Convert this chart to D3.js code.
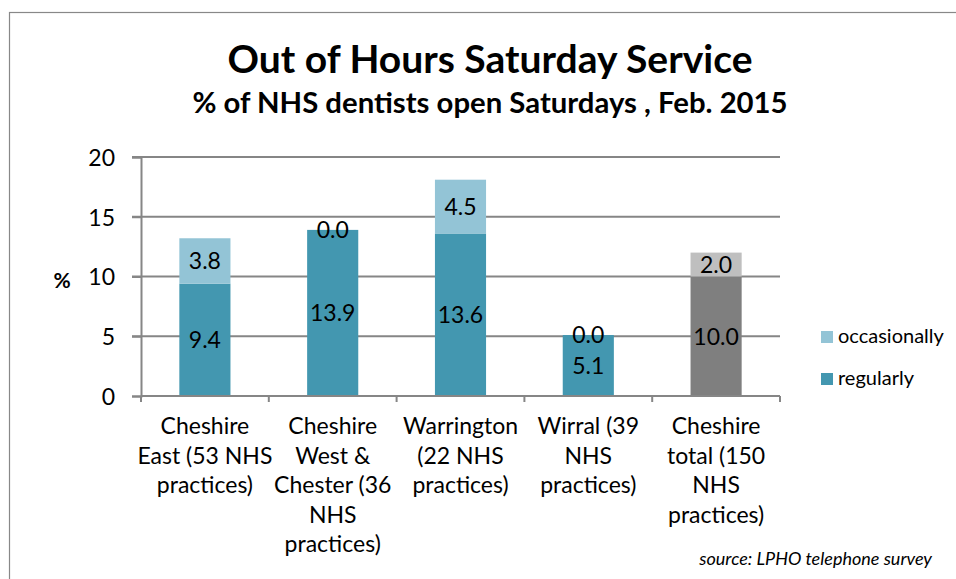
<!DOCTYPE html>
<html>
<head>
<meta charset="utf-8">
<script src="https://cdn.jsdelivr.net/npm/d3@7"></script>
<style>
    body { margin: 0; background: #fff; }
    text { font-family: Lato, "Open Sans", sans-serif; fill: #000; }
</style>
</head>
<body>
<div id="chart"></div>
<script>
// Données
const categories = [
    ["Cheshire", "East (53 NHS", "practices)"],
    ["Cheshire", "West &", "Chester (36", "NHS", "practices)"],
    ["Warrington", "(22 NHS", "practices)"],
    ["Wirral (39", "NHS", "practices)"],
    ["Cheshire", "total (150", "NHS", "practices)"]
]
const regularly = [9.4, 13.9, 13.6, 5.1, 10.0]
const occasionally = [3.8, 0.0, 4.5, 0.0, 2.0]
const yTicks = [0, 5, 10, 15, 20]
const seriesNames = ["occasionally", "regularly"]

const width = 956, height = 579
const margin = {top: 157, right: 176, bottom: 183, left: 141}

const svg = d3.select('#chart')
    .append('svg')
    .attr("width", width)
    .attr("height", height)

// cadre
svg.append("rect")
    .attr("x", 9.5).attr("y", 12.5)
    .attr("width", 1000).attr("height", 1000)
    .attr("fill", "none")
    .attr("stroke", "#888")
    .attr("stroke-width", 1.2)

svg.append("text")
    .attr("x", 490).attr("y", 73)
    .attr("text-anchor", "middle")
    .attr("font-size", 39).attr("font-weight", "bold")
    .text("Out of Hours Saturday Service")

svg.append("text")
    .attr("x", 490).attr("y", 113)
    .attr("text-anchor", "middle")
    .attr("font-size", 29.3).attr("font-weight", "bold")
    .text("% of NHS dentists open Saturdays , Feb. 2015")

const x = d3.scaleBand()
    .domain(d3.range(categories.length))
    .range([margin.left, width - margin.right])
    .paddingInner(0.6)
    .paddingOuter(0.3)

const y = d3.scaleLinear()
    .domain([0, 20])
    .range([height - margin.bottom, margin.top])

const g = svg.append("g")

// grille
g.selectAll(".grid")
    .data(yTicks.filter(d => d > 0))
    .join("line")
    .attr("x1", margin.left - 9).attr("x2", width - margin.right)
    .attr("y1", d => y(d)).attr("y2", d => y(d))
    .attr("stroke", "#868686").attr("stroke-width", 2)

// axe y
const yAxis = g.append("g")
    .attr("transform", `translate(${margin.left},0)`)
    .call(d3.axisLeft(y).tickValues(yTicks).tickSize(9).tickPadding(17))
yAxis.select(".domain").attr("stroke", "#868686").attr("stroke-width", 2)
yAxis.selectAll(".tick line").attr("stroke", "#868686").attr("stroke-width", 2)
yAxis.selectAll(".tick text").attr("font-size", 23).attr("font-family", "Lato").attr("dy", "0.36em")

svg.append("text")
    .attr("x", 62).attr("y", y(10) + 11)
    .attr("text-anchor", "middle")
    .attr("font-size", 21).attr("font-weight", "bold")
    .text("%")

// barres
const step = x.step()
const colors = i => i === 4 ? ["#7F7F7F", "#BFBFBF"] : ["#4397B0", "#93C4D6"]

const bars = g.selectAll(".bar")
    .data(categories.map((c, i) => ({i, reg: regularly[i], occ: occasionally[i]})))
    .join("g")

bars.append("rect")
    .attr("x", d => x(d.i)).attr("width", x.bandwidth())
    .attr("y", d => y(d.reg)).attr("height", d => y(0) - y(d.reg))
    .attr("fill", d => colors(d.i)[0])

bars.append("rect")
    .attr("x", d => x(d.i)).attr("width", x.bandwidth())
    .attr("y", d => y(d.reg + d.occ)).attr("height", d => y(d.reg) - y(d.reg + d.occ))
    .attr("fill", d => colors(d.i)[1])

bars.append("text")
    .attr("x", d => x(d.i) + x.bandwidth() / 2)
    .attr("y", d => y(d.reg / 2))
    .attr("dy", "0.36em")
    .attr("text-anchor", "middle").attr("font-size", 23)
    .text(d => d.reg.toFixed(1))

bars.append("text")
    .attr("x", d => x(d.i) + x.bandwidth() / 2)
    .attr("y", d => y(d.reg + d.occ / 2))
    .attr("dy", "0.36em")
    .attr("text-anchor", "middle").attr("font-size", 23)
    .text(d => d.occ.toFixed(1))

// axe x
g.append("line")
    .attr("x1", margin.left).attr("x2", width - margin.right)
    .attr("y1", y(0)).attr("y2", y(0))
    .attr("stroke", "#868686").attr("stroke-width", 2)

g.selectAll(".xtick")
    .data(d3.range(categories.length + 1))
    .join("line")
    .attr("x1", d => margin.left + d * step).attr("x2", d => margin.left + d * step)
    .attr("y1", y(0)).attr("y2", y(0) + 6)
    .attr("stroke", "#868686").attr("stroke-width", 2)

g.selectAll(".xlabel")
    .data(categories)
    .join("text")
    .attr("text-anchor", "middle").attr("font-size", 23)
    .attr("transform", (d, i) => `translate(${x(i) + x.bandwidth() / 2},434)`)
    .selectAll("tspan")
    .data(d => d)
    .join("tspan")
    .attr("x", 0).attr("y", (d, j) => j * 29.5)
    .text(d => d)

// légende
const legend = svg.append("g")
    .selectAll("g")
    .data(seriesNames)
    .join("g")
    .attr("transform", (d, i) => `translate(821,${331 + i * 42})`)

legend.append("rect")
    .attr("width", 12).attr("height", 12)
    .attr("fill", (d, i) => i === 0 ? "#93C4D6" : "#4397B0")

legend.append("text")
    .attr("x", 17).attr("y", 12)
    .attr("font-size", 20)
    .text(d => d)

svg.append("text")
    .attr("x", 932).attr("y", 565)
    .attr("text-anchor", "end")
    .attr("font-size", 18).attr("font-style", "italic")
    .text("source: LPHO telephone survey")
</script>
</body>
</html>
